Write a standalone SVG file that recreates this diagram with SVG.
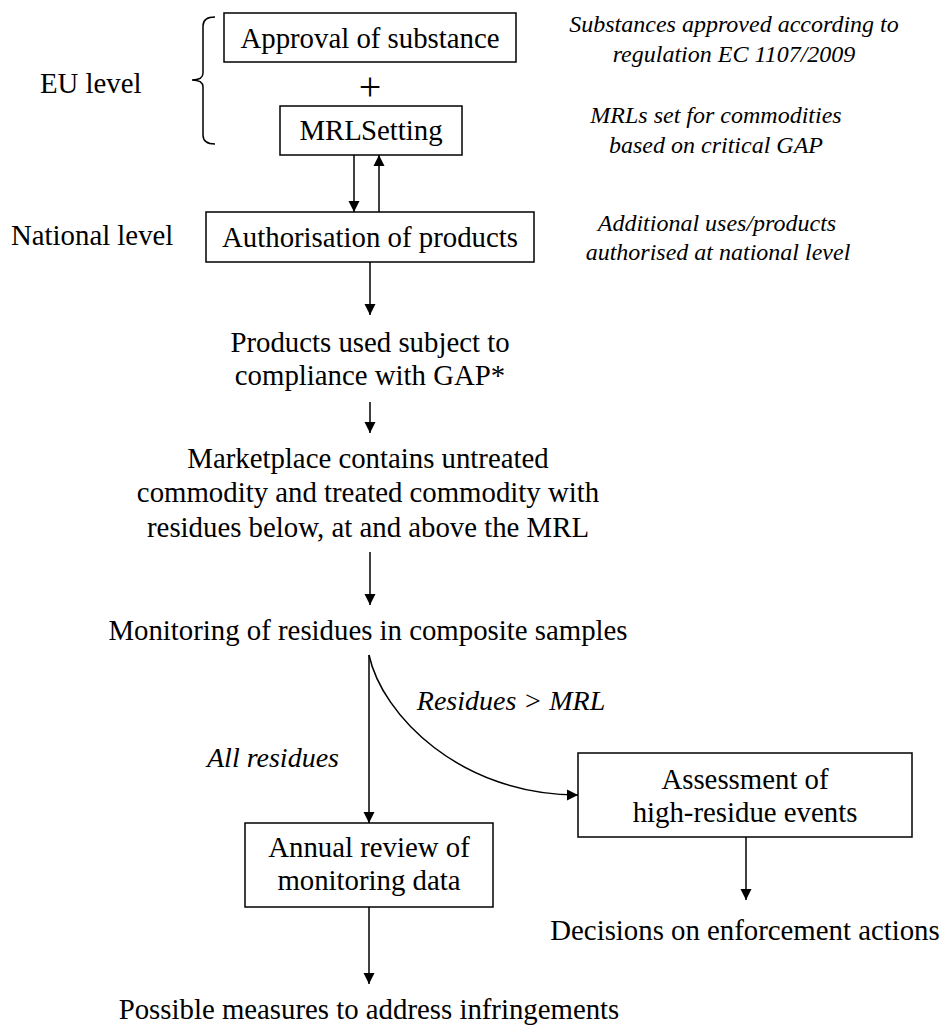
<svg xmlns="http://www.w3.org/2000/svg" width="942" height="1026" viewBox="0 0 942 1026">
<defs>
<style>
.t{font-family:"Liberation Serif","Times New Roman",serif;font-size:28.8px;fill:#000;text-anchor:middle}
.l{text-anchor:start}
.i{font-family:"Liberation Serif","Times New Roman",serif;font-size:24px;font-style:italic;fill:#000;text-anchor:middle}
.e{font-size:28px}
.box{fill:#fff;stroke:#000;stroke-width:1.5}
.c{fill:none;stroke:#000;stroke-width:1.5}
</style>
<marker id="ah" viewBox="0 0 10 10" refX="10" refY="5" markerWidth="11" markerHeight="13" markerUnits="userSpaceOnUse" orient="auto">
<path d="M0,0 L10,5 L0,10 Z" fill="#000"/>
</marker>
</defs>
<rect width="942" height="1026" fill="#fff"/>

<g id="labels">
<text class="t l" x="40" y="93">EU level</text>
<text class="t l" x="11" y="245">National level</text>
<path class="c" d="M215,17 Q203,17 203,26 L203,73 Q203,80 192,80 Q203,80 203,87 L203,135 Q203,144 215,144"/>
<text class="t" x="370" y="100" style="font-size:40px">+</text>
</g>

<g id="notes">
<text class="i" x="734" y="32">Substances approved according to</text>
<text class="i" x="734" y="62">regulation EC 1107/2009</text>
<text class="i" x="716" y="123">MRLs set for commodities</text>
<text class="i" x="716" y="153">based on critical  GAP</text>
<text class="i" x="717" y="231">Additional uses/products</text>
<text class="i" x="718" y="260">authorised at national level</text>
</g>

<g id="approval">
<rect class="box" x="224" y="13" width="292" height="49"/>
<text class="t" x="370" y="48">Approval of substance</text>
</g>

<g id="mrl">
<rect class="box" x="280" y="106" width="182" height="49"/>
<text class="t" x="371" y="140" style="word-spacing:-7px">MRL Setting</text>
</g>

<g id="auth">
<rect class="box" x="206" y="212" width="328" height="50"/>
<text class="t" x="370" y="247">Authorisation of products</text>
</g>

<g id="products">
<text class="t" x="370" y="352">Products used subject to</text>
<text class="t" x="370" y="385">compliance with GAP*</text>
</g>

<g id="marketplace">
<text class="t" x="368" y="468">Marketplace contains untreated</text>
<text class="t" x="368" y="502">commodity and treated commodity with</text>
<text class="t" x="368" y="537">residues below, at and above the MRL</text>
</g>

<g id="monitoring">
<text class="t" x="368" y="640">Monitoring of residues in composite samples</text>
</g>

<g id="annual">
<rect class="box" x="245" y="823" width="248" height="84"/>
<text class="t" x="369" y="857">Annual review of</text>
<text class="t" x="369" y="890">monitoring data</text>
</g>

<g id="assessment">
<rect class="box" x="578" y="753" width="334" height="84"/>
<text class="t" x="745" y="789">Assessment of</text>
<text class="t" x="745" y="822">high-residue events</text>
</g>

<g id="decisions">
<text class="t" x="745" y="940">Decisions on enforcement actions</text>
</g>

<g id="measures">
<text class="t" x="369" y="1019">Possible measures to address infringements</text>
</g>

<g id="edge-labels">
<text class="i e" x="511" y="710">Residues &gt; MRL</text>
<text class="i e" x="273" y="767">All residues</text>
</g>

<g id="connectors">
<line class="c" x1="354" y1="155" x2="354" y2="212" marker-end="url(#ah)"/>
<line class="c" x1="379" y1="212" x2="379" y2="155" marker-end="url(#ah)"/>
<line class="c" x1="370" y1="262" x2="370" y2="315" marker-end="url(#ah)"/>
<line class="c" x1="370" y1="402" x2="370" y2="433" marker-end="url(#ah)"/>
<line class="c" x1="370" y1="552" x2="370" y2="605" marker-end="url(#ah)"/>
<line class="c" x1="369" y1="655" x2="369" y2="823" marker-end="url(#ah)"/>
<path class="c" d="M369,655 C382,715 460,795 578,795" marker-end="url(#ah)"/>
<line class="c" x1="746" y1="837" x2="746" y2="900" marker-end="url(#ah)"/>
<line class="c" x1="369" y1="907" x2="369" y2="984" marker-end="url(#ah)"/>
</g>
</svg>
